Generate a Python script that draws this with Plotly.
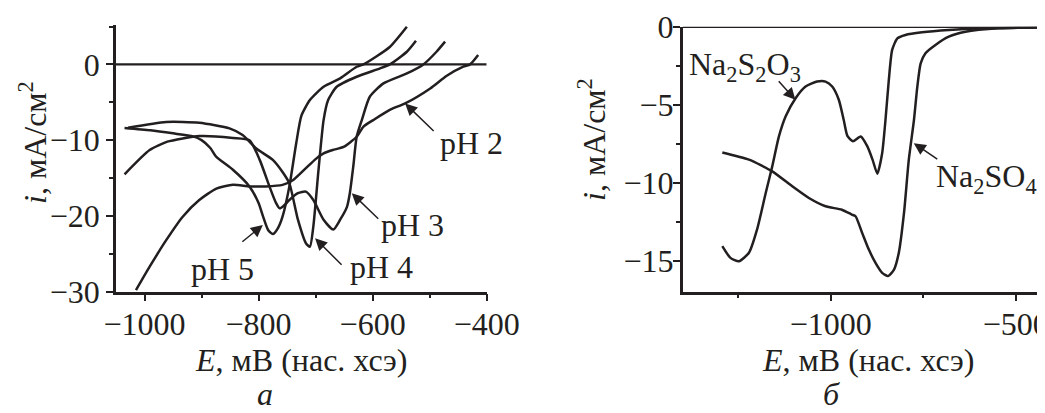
import plotly.graph_objects as go

# ---------------- data (panel a) ----------------
E_pH2 = [-1015, -991, -962, -933, -904, -874, -845, -816, -787, -758, -740, -717, -700, -686, -670, -651, -628, -616, -599, -570, -543, -499, -470, -441, -429, -415]
I_pH2 = [-29.8, -26.7, -23.2, -20.1, -17.9, -16.4, -15.9, -16.1, -16.1, -15.9, -15.3, -13.7, -12.5, -11.75, -11.3, -10.9, -9.55, -8.2, -7.35, -6.0, -5.15, -3.17, -1.5, -0.3, 0.0, 1.23]

E_pH3 = [-1035, -991, -960, -933, -904, -875, -845, -816, -798, -781, -770, -763, -755, -746, -731, -717, -704, -686, -669, -657, -645, -640, -634, -628, -619, -605, -581, -540, -511, -488, -473]
I_pH3 = [-14.5, -11.3, -10.2, -9.77, -9.46, -9.5, -9.7, -10.0, -12.6, -16.1, -18.2, -19.0, -18.6, -17.9, -17.0, -16.8, -17.9, -20.5, -21.8, -20.5, -18.8, -17.0, -13.5, -9.55, -7.35, -4.27, -2.5, -1.19, 0.0, 1.67, 3.0]

E_pH4 = [-1029, -962, -904, -851, -828, -804, -775, -758, -746, -731, -717, -710, -704, -695, -686, -678, -663, -628, -587, -570, -540, -524]
I_pH4 = [-8.36, -7.6, -7.7, -8.45, -9.33, -11.1, -12.6, -14.2, -15.7, -20.5, -23.6, -24.06, -21.4, -14.0, -7.35, -4.7, -2.95, -1.63, -0.53, 0.0, 1.67, 3.12]

E_pH5 = [-1035, -990, -950, -915, -900, -885, -874, -845, -816, -800, -792, -783, -775, -766, -758, -746, -734, -725, -710, -686, -657, -628, -616, -570, -540]
I_pH5 = [-8.4, -8.7, -9.1, -9.5, -10.0, -11.0, -12.2, -13.9, -16.1, -18.3, -20.1, -21.9, -22.4, -21.6, -20.1, -16.1, -10.4, -6.8, -4.7, -2.95, -1.85, -0.31, 0.0, 2.3, 4.96]

# ---------------- data (panel б) ----------------
E_S2O3 = [-1293, -1271, -1248, -1221, -1199, -1176, -1158, -1140, -1122, -1095, -1068, -1037, -1014, -996, -978, -965, -955, -940, -919, -901, -887, -874, -861, -852, -843, -834, -820, -798, -753, -681, -591, -425]
I_S2O3 = [-14.08, -14.83, -15.04, -14.5, -13.0, -10.7, -8.96, -7.04, -5.76, -4.59, -3.84, -3.52, -3.52, -3.84, -4.7, -5.97, -7.0, -7.35, -7.04, -7.68, -8.53, -9.43, -8.11, -5.97, -3.41, -1.49, -0.75, -0.53, -0.36, -0.21, -0.1, -0.04]

E_SO4 = [-1293, -1221, -1158, -1104, -1059, -1014, -970, -943, -933, -915, -897, -879, -861, -845, -829, -816, -802, -789, -775, -766, -757, -744, -717, -681, -636, -546, -425]
I_SO4 = [-8.07, -8.53, -9.28, -10.24, -10.99, -11.52, -11.74, -12.05, -12.16, -13.23, -14.3, -15.15, -15.79, -16.0, -15.58, -14.5, -11.95, -8.53, -5.97, -3.84, -2.35, -1.7, -1.17, -0.64, -0.32, -0.1, -0.04]

OFF = 8                      # page body margin
W, H = 1045 - OFF, 413 - OFF
C = "#231f20"
FONT = "Liberation Serif"
FS = 32

def fx(px):
    return (px - OFF) / W

def fy(py):
    return 1 - (py - OFF) / H

fig = go.Figure()
line = dict(color=C, width=2.5, shape="spline", smoothing=0.6)
for E, I in [(E_pH2, I_pH2), (E_pH3, I_pH3), (E_pH4, I_pH4), (E_pH5, I_pH5)]:
    fig.add_trace(go.Scatter(x=E, y=I, mode="lines", line=line, xaxis="x", yaxis="y", showlegend=False, hoverinfo="skip"))
for E, I in [(E_S2O3, I_S2O3), (E_SO4, I_SO4)]:
    fig.add_trace(go.Scatter(x=E, y=I, mode="lines", line=line, xaxis="x2", yaxis="y2", showlegend=False, hoverinfo="skip"))

tickfont = dict(family=FONT, size=FS, color=C)

def ax_common(**kw):
    d = dict(showline=True, linewidth=2.5, linecolor=C, ticks="outside", ticklen=7,
             tickwidth=2, tickcolor=C, showgrid=False, zeroline=False, tickfont=tickfont,
             automargin=False, ticklabeloverflow="allow")
    d.update(kw)
    return d

fig.update_layout(
    width=W, height=H, margin=dict(l=0, r=0, t=0, b=0, autoexpand=False),
    paper_bgcolor="white", plot_bgcolor="white",
    xaxis=ax_common(domain=[fx(116), fx(486.7)], range=[-1050, -400], tick0=-1000, dtick=200,
                    minor=dict(ticks="outside", dtick=100, tick0=-1000, ticklen=4, tickwidth=2, tickcolor=C),
                    anchor="y", ticklabelstandoff=-5),
    yaxis=ax_common(domain=[fy(291.7), fy(25)], range=[-30, 5.2], tick0=0, dtick=10,
                    minor=dict(ticks="outside", dtick=5, tick0=0, ticklen=4, tickwidth=2, tickcolor=C),
                    anchor="x"),
    xaxis2=ax_common(domain=[fx(682.7), 1.0], range=[-1400, -421], tick0=-1000, dtick=500,
                     minor=dict(ticks="outside", dtick=250, tick0=-1000, ticklen=4, tickwidth=2, tickcolor=C),
                     anchor="y2", ticklabelstandoff=-5),
    yaxis2=ax_common(domain=[fy(291.7), fy(26.7)], range=[-17, 0], tick0=0, dtick=5,
                     minor=dict(ticks="outside", dtick=2.5, tick0=0, ticklen=4, tickwidth=2, tickcolor=C),
                     anchor="x2", ticklabelstandoff=-7),
)

# zero lines
fig.add_shape(type="line", xref="x", yref="y", x0=-1050, x1=-400, y0=0, y1=0, line=dict(color=C, width=2.2))
fig.add_shape(type="line", xref="x2", yref="y2", x0=-1400, x1=-421, y0=0, y1=0, line=dict(color=C, width=2.5))

def text(px, py, s, angle=0):
    fig.add_annotation(x=fx(px), y=fy(py), xref="paper", yref="paper", text=s, showarrow=False,
                       xanchor="center", yanchor="middle", textangle=angle,
                       font=dict(family=FONT, size=FS, color=C))

def arrow(xr, yr, x, y, ax, ay):
    fig.add_annotation(x=x, y=y, xref=xr, yref=yr, text="", showarrow=True, ax=ax, ay=ay,
                       arrowhead=2, arrowsize=1.6, arrowwidth=1.5, arrowcolor=C)

# axis titles and panel letters
text(301, 360, "<i>E</i>, мВ (нас. хсэ)")
text(867.5, 360, "<i>E</i>, мВ (нас. хсэ)")
text(33, 143, "<i>i</i>, мА/см<sup>2</sup>", angle=-90)
text(592, 140, "<i>i</i>, мА/см<sup>2</sup>", angle=-90)
text(265, 394, "<i>а</i>")
text(831, 394, "<i>б</i>")

# curve labels
text(471, 143, "pH 2")
text(412.5, 225, "pH 3")
text(381.7, 266.5, "pH 4")
text(222, 269, "pH 5")
text(986, 178, "Na<sub>2</sub>SO<sub>4</sub>")
text(745, 66, "Na<sub>2</sub>S<sub>2</sub>O<sub>3</sub>")

arrow("x", "y", -543, -5.15, 30, 29)
arrow("x", "y", -636.6, -17.0, 28, 27)
arrow("x", "y", -700.9, -22.95, 28, 28)
arrow("x", "y", -792.5, -21.2, -22, 18)
arrow("x2", "y2", -775.6, -7.47, 25, 17)
arrow("x2", "y2", -1095.5, -4.69, -18, -20)

fig.write_html("out.html")
